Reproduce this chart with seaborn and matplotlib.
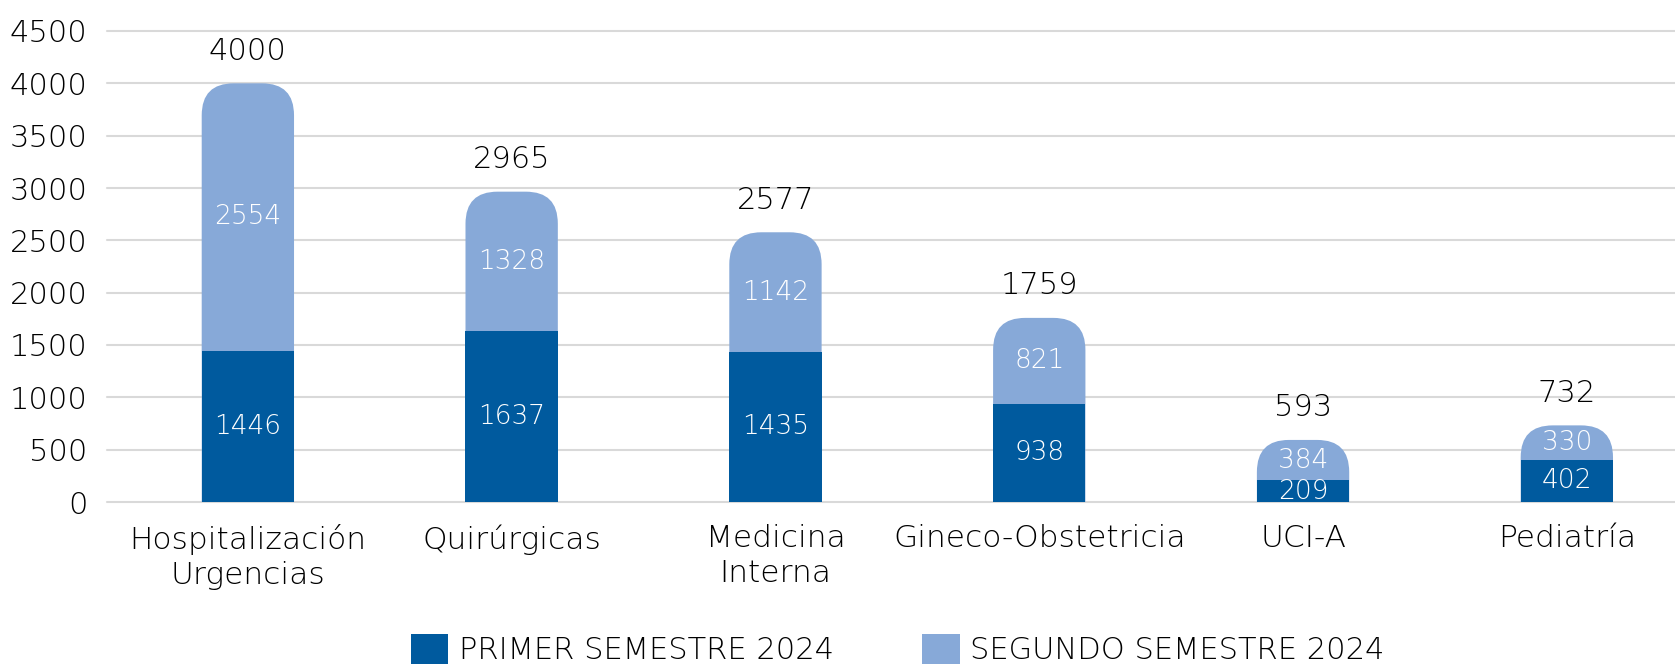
import matplotlib
matplotlib.use("Agg")
import matplotlib.pyplot as plt
import seaborn as sns
import pandas as pd
from matplotlib.patches import FancyBboxPatch, Patch

# ---- data ----
categories = ["Hospitalización\nUrgencias", "Quirúrgicas", "Medicina\nInterna",
              "Gineco-Obstetricia", "UCI-A", "Pediatría"]
primer = [1446, 1637, 1435, 938, 209, 402]
segundo = [2554, 1328, 1142, 821, 384, 330]
series_names = ["PRIMER SEMESTRE 2024", "SEGUNDO SEMESTRE 2024"]
yticks = [0, 500, 1000, 1500, 2000, 2500, 3000, 3500, 4000, 4500]

DARK = "#005A9E"
LIGHT = "#87A9D8"
TXT = "#000000"
GRID = "#D9D9D9"

sns.set_theme(style="white")
plt.rcParams["font.family"] = ["DejaVu Sans"]
plt.rcParams["font.weight"] = "light"

W, H = 1675, 667
fig = plt.figure(figsize=(W / 100, H / 100), dpi=100)
ax = fig.add_axes([107 / W, (H - 502) / H, 1 - 107 / W, (502 - 31) / H])

df = pd.DataFrame({"cat": categories, "primer": primer, "segundo": segundo})
df["total"] = df["primer"] + df["segundo"]

bw = 0.35
sns.barplot(data=df, x="cat", y="total", color=LIGHT, saturation=1,
            width=bw, linewidth=0, ax=ax)
n_light = len(ax.patches)
sns.barplot(data=df, x="cat", y="primer", color=DARK, saturation=1,
            width=bw, linewidth=0, ax=ax)

ax.set_xlim(-0.534, 5.41)
ax.set_ylim(0, 4500)
ax.set_yticks(yticks)

# rounded tops for the light (total) bars
fig.canvas.draw()
p0 = ax.transData.transform((0, 0))
px_x = ax.transData.transform((1, 0))[0] - p0[0]
px_y = ax.transData.transform((0, 1))[1] - p0[1]
r_px = 32
r_x = r_px / px_x
aspect = px_x / px_y
ext = 1000
light_patches = list(ax.patches)[:n_light]
for p in light_patches:
    x, w, h = p.get_x(), p.get_width(), p.get_height()
    p.remove()
    fb = FancyBboxPatch((x, -ext), w, h + ext,
                        boxstyle=f"round,pad=0,rounding_size={r_x}",
                        mutation_aspect=aspect, facecolor=LIGHT,
                        edgecolor="none", linewidth=0, zorder=1.5)
    ax.add_patch(fb)
for p in ax.patches:
    if not isinstance(p, FancyBboxPatch):
        p.set_zorder(2)

# labels
for i in range(len(categories)):
    ax.text(i, primer[i] / 2, f"{primer[i]}", ha="center", va="center",
            color="white", fontsize=19, zorder=5)
    ax.text(i, primer[i] + segundo[i] / 2, f"{segundo[i]}", ha="center",
            va="center", color="white", fontsize=19, zorder=5)
    ax.annotate(f"{primer[i] + segundo[i]}", (i, primer[i] + segundo[i]),
                xytext=(0, 23), textcoords="offset points", ha="center",
                va="center", color=TXT, fontsize=22)

# axes styling
ax.set_xlabel("")
ax.set_ylabel("")
for s in ax.spines.values():
    s.set_visible(False)
ax.yaxis.grid(True, color=GRID, linewidth=1.5, zorder=0)
ax.set_axisbelow(True)
for gl in ax.get_ygridlines():
    gl.set_clip_on(False)
ax.tick_params(axis="both", length=0, colors=TXT, labelsize=22)
ax.tick_params(axis="y", pad=14)
ax.tick_params(axis="x", pad=16)
for t in ax.get_xticklabels():
    t.set_linespacing(1.25)
    t.set_fontsize(22.5)

handles = [Patch(facecolor=DARK, edgecolor="none"),
           Patch(facecolor=LIGHT, edgecolor="none")]
leg = fig.legend(handles, series_names, loc="center", ncol=2,
                 bbox_to_anchor=(0.536, 0.026), frameon=False,
                 prop={"size": 22},
                 handlelength=1.23, handleheight=1.15, handletextpad=0.34,
                 columnspacing=2.9, borderpad=0, borderaxespad=0)
for t in leg.get_texts():
    t.set_color(TXT)

fig.savefig("out.png", dpi=100)
